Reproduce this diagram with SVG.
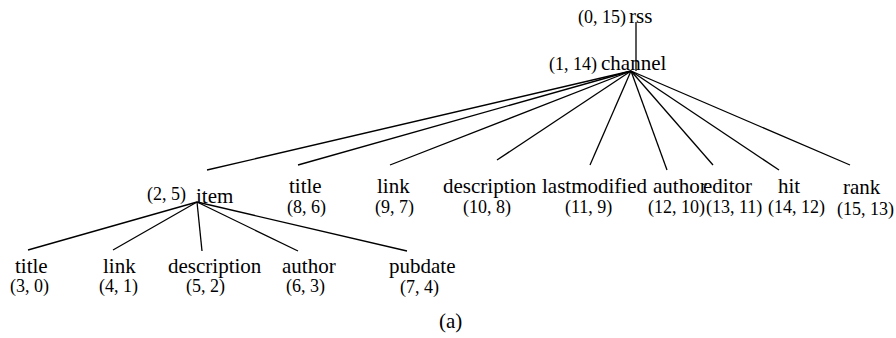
<svg xmlns="http://www.w3.org/2000/svg" width="896" height="338" viewBox="0 0 896 338">
  <style>
    text { font-family: "Liberation Serif", "Times New Roman", serif; fill: #000; }
    .name { font-size: 21px; }
    .num { font-size: 18px; }
    .edge { stroke: #000; stroke-width: 1.3; fill: none; }
  </style>
  <rect width="896" height="338" fill="#fff"/>

  <!-- tree edges -->
  <g id="connectors">
    <line class="edge" x1="636" y1="22" x2="636" y2="71"/>
    <line class="edge" x1="631" y1="71" x2="207" y2="170"/>
    <line class="edge" x1="631" y1="71" x2="298" y2="165"/>
    <line class="edge" x1="631" y1="71" x2="390" y2="165"/>
    <line class="edge" x1="631" y1="71" x2="497" y2="160"/>
    <line class="edge" x1="631" y1="71" x2="590" y2="165"/>
    <line class="edge" x1="631" y1="71" x2="667" y2="170"/>
    <line class="edge" x1="631" y1="71" x2="713" y2="165"/>
    <line class="edge" x1="631" y1="71" x2="779" y2="170"/>
    <line class="edge" x1="631" y1="71" x2="850" y2="165"/>
    <line class="edge" x1="197" y1="202" x2="28" y2="250"/>
    <line class="edge" x1="197" y1="202" x2="113" y2="250"/>
    <line class="edge" x1="197" y1="202" x2="202" y2="251"/>
    <line class="edge" x1="197" y1="202" x2="298" y2="251"/>
    <line class="edge" x1="197" y1="202" x2="407" y2="251"/>
  </g>

  <g id="rss">
    <text class="num" x="578" y="23">(0, 15)</text>
    <text class="name" x="629" y="23">rss</text>
  </g>
  <g id="channel">
    <text class="num" x="549" y="70">(1, 14)</text>
    <text class="name" x="601" y="70">channel</text>
  </g>

  <g id="item">
    <text class="num" x="147" y="200">(2, 5)</text>
    <text class="name" x="196" y="203">item</text>
  </g>
  <g id="ch-title">
    <text class="name" x="289" y="193">title</text>
    <text class="num" x="287" y="213">(8, 6)</text>
  </g>
  <g id="ch-link">
    <text class="name" x="377" y="193">link</text>
    <text class="num" x="375" y="213">(9, 7)</text>
  </g>
  <g id="ch-description">
    <text class="name" x="443" y="193">description</text>
    <text class="num" x="463" y="213">(10, 8)</text>
  </g>
  <g id="ch-lastmodified">
    <text class="name" x="542" y="193">lastmodified</text>
    <text class="num" x="565" y="213">(11, 9)</text>
  </g>
  <g id="ch-author">
    <text class="name" x="653" y="193">author</text>
    <text class="num" x="648" y="213">(12, 10)</text>
  </g>
  <g id="ch-editor">
    <text class="name" x="703" y="193">editor</text>
    <text class="num" x="706" y="213">(13, 11)</text>
  </g>
  <g id="ch-hit">
    <text class="name" x="778" y="193">hit</text>
    <text class="num" x="768" y="213">(14, 12)</text>
  </g>
  <g id="ch-rank">
    <text class="name" x="843" y="194">rank</text>
    <text class="num" x="837" y="215">(15, 13)</text>
  </g>

  <g id="it-title">
    <text class="name" x="15" y="273">title</text>
    <text class="num" x="10" y="292">(3, 0)</text>
  </g>
  <g id="it-link">
    <text class="name" x="103" y="273">link</text>
    <text class="num" x="99" y="292">(4, 1)</text>
  </g>
  <g id="it-description">
    <text class="name" x="168" y="273">description</text>
    <text class="num" x="186" y="292">(5, 2)</text>
  </g>
  <g id="it-author">
    <text class="name" x="282" y="273">author</text>
    <text class="num" x="286" y="292">(6, 3)</text>
  </g>
  <g id="it-pubdate">
    <text class="name" x="389" y="273">pubdate</text>
    <text class="num" x="400" y="293">(7, 4)</text>
  </g>

  <text class="name" x="439" y="328">(a)</text>
</svg>
